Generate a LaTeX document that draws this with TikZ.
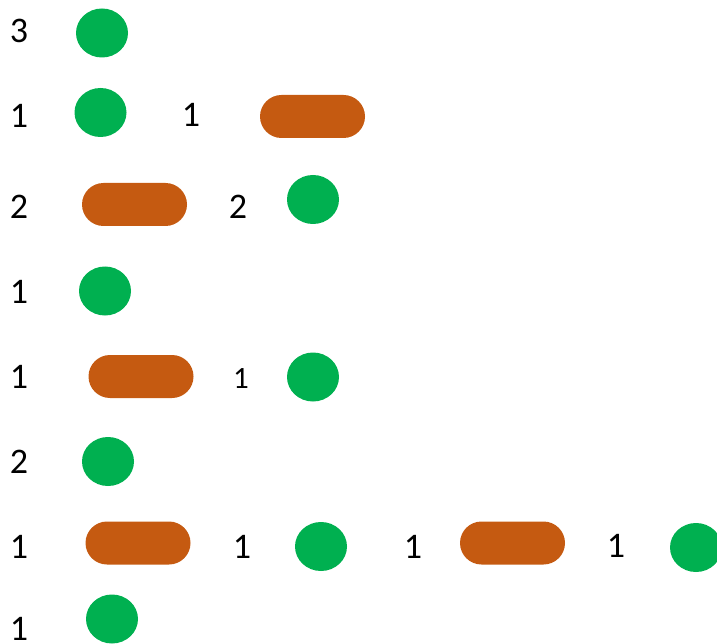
\documentclass[tikz,border=0pt]{standalone}
\usepackage{fontspec}
\setmainfont{Carlito}
\usepackage{tikz}
\usetikzlibrary{positioning, shapes.geometric}
\definecolor{dot_green}{HTML}{00B050}
\definecolor{bar_orange}{HTML}{C55A11}

\begin{document}
\begin{tikzpicture}[x=1pt, y=-1pt,
      dot/.style={ellipse, fill=dot_green, minimum width=52pt, minimum height=49pt, inner sep=0pt},
      bar/.style={rectangle, rounded corners=21.5pt, fill=bar_orange, minimum width=105pt, minimum height=43pt, inner sep=0pt},
      num/.style={anchor=base, inner sep=0pt, font=\fontsize{36}{40}\selectfont},
      smallnum/.style={num, font=\fontsize{31}{36}\selectfont}]
    \clip (0,0) rectangle (717,644);
    % row 1
    \node[num] (n1) at (19,43) {3};
    \node[dot] (g1) at (102,33) {};
    % row 2
    \node[num] (n2) at (19,128) {1};
    \node[dot] (g2) at (100.5,112.5) {};
    \node[num] (n2b) at (191,127) {1};
    \node[bar] (b2) at (312.5,116.5) {};
    % row 3
    \node[num] (n3) at (19,219) {2};
    \node[bar] (b3) at (134.5,204.5) {};
    \node[num] (n3b) at (238,219) {2};
    \node[dot] (g3) at (313,199.5) {};
    % row 4
    \node[num] (n4) at (19,303) {1};
    \node[dot] (g4) at (105,291) {};
    % row 5
    \node[num] (n5) at (19,388) {1};
    \node[bar] (b5) at (141,376.5) {};
    \node[smallnum] (n5b) at (241,388) {1};
    \node[dot] (g5) at (313,377) {};
    % row 6
    \node[num] (n6) at (19,473) {2};
    \node[dot] (g6) at (108,461.5) {};
    % row 7
    \node[num] (n7) at (19,558) {1};
    \node[bar] (b7) at (138,543) {};
    \node[num] (n7b) at (242,558) {1};
    \node[dot] (g7) at (321,546.5) {};
    \node[num] (n7c) at (413,558) {1};
    \node[bar] (b7b) at (512.5,543) {};
    \node[num] (n7d) at (616,557) {1};
    \node[dot] (g7b) at (696,547.5) {};
    % row 8
    \node[num] (n8) at (19,640) {1};
    \node[dot] (g8) at (112,619) {};
  \end{tikzpicture}
\end{document}
